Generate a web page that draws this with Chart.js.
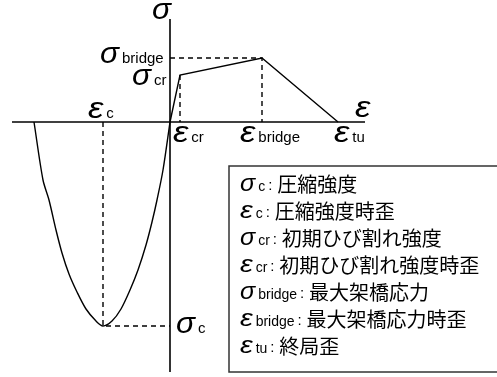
<!DOCTYPE html>
<html>
<head>
<meta charset="utf-8">
<script src="https://cdn.jsdelivr.net/npm/chart.js@4.4.1/dist/chart.umd.min.js"></script>
<style>
  html, body { margin: 0; background: #fff; }
</style>
</head>
<body>
<canvas id="myChart" width="497" height="377"></canvas>
<script>
// key points of the sketch (arbitrary units)
const epsC = -6.7, sigC = -20.4;
const epsCr = 1.0, sigCr = 4.7;
const epsBridge = 9.2, sigBridge = 6.4;
const epsTu = 16.8;

// tension side
const tensionX = [0, epsCr, epsBridge, epsTu];
const tensionY = [0, sigCr, sigBridge, 0];

// compression side (hand drawn curve)
const compX = [-13.6, -12.7, -12.1, -11.4, -10.8, -10.1, -9.3, -8.4, -7.4, epsC, -5.8, -4.9, -4.0, -3.2, -2.4, -1.8, -1.3, -0.7, 0];
const compY = [0, -5.8, -7.8, -10.8, -13.1, -15.2, -17.0, -18.7, -19.9, sigC, -19.9, -18.7, -16.8, -14.8, -12.3, -10.0, -7.8, -4.8, 0];

// axis extents
const axisX = [-15.8, 19.5];
const axisY = [-25, 10.3];

// legend entries
const legGreek = ['σ', 'ε', 'σ', 'ε', 'σ', 'ε', 'ε'];
const legSub = ['c', 'c', 'cr', 'cr', 'bridge', 'bridge', 'tu'];
const legText = ['圧縮強度', '圧縮強度時歪', '初期ひび割れ強度', '初期ひび割れ強度時歪', '最大架橋応力', '最大架橋応力時歪', '終局歪'];

const pts = (xs, ys) => xs.map((x, i) => ({ x: x, y: ys[i] }));

function line(data, opts) {
  return Object.assign({
    data: data, showLine: true, pointRadius: 0, borderColor: '#000',
    borderWidth: 1.4, fill: false, tension: 0
  }, opts || {});
}

// greek letter, stretched a bit sideways like the original symbol font
function greek(ctx, g, x, y, size) {
  const k = g === 'ε' ? 1.2 : 1.05;
  ctx.font = 'italic ' + size + 'px "Liberation Sans"';
  ctx.save();
  ctx.translate(x, y);
  ctx.scale(k, 1);
  ctx.fillText(g, 0, 0);
  ctx.restore();
  return ctx.measureText(g).width * k;
}

function sym(ctx, g, s, x, y, gSize, sSize) {
  const w = greek(ctx, g, x, y, gSize);
  ctx.font = sSize + 'px "Liberation Sans"';
  ctx.fillText(s, x + w + 3, y);
  return x + w + 3 + ctx.measureText(s).width;
}

const labels = {
  id: 'labels',
  afterDraw(chart) {
    const ctx = chart.ctx;
    const xs = chart.scales.x, ys = chart.scales.y;
    const px = v => xs.getPixelForValue(v);
    const py = v => ys.getPixelForValue(v);
    ctx.save();
    ctx.fillStyle = '#000';
    ctx.textBaseline = 'alphabetic';
    ctx.textAlign = 'left';

    // axis titles
    greek(ctx, 'σ', px(0) - 18, py(axisY[1]), 30);
    greek(ctx, 'ε', px(axisX[1]) - 10, py(0) - 5, 29);

    // curve labels
    sym(ctx, 'σ', 'bridge', px(0) - 70, py(sigBridge) + 5, 30, 15);
    sym(ctx, 'σ', 'cr', px(0) - 38, py(sigCr) + 10, 30, 15);
    sym(ctx, 'ε', 'c', px(epsC) - 15, py(0) - 4, 29, 15);
    sym(ctx, 'ε', 'cr', px(epsCr) - 7, py(0) + 20, 29, 15);
    sym(ctx, 'ε', 'bridge', px(epsBridge) - 22, py(0) + 20, 29, 15);
    sym(ctx, 'ε', 'tu', px(epsTu) - 4, py(0) + 20, 29, 15);
    sym(ctx, 'σ', 'c', px(0) + 6, py(sigC) + 7, 30, 15);

    // legend box
    const bx = 229, by = 166, bw = 290, bh = 206;
    ctx.strokeStyle = '#333';
    ctx.lineWidth = 1.5;
    ctx.strokeRect(bx, by, bw, bh);
    for (let i = 0; i < legText.length; i++) {
      const y = by + 25 + i * 27;
      let x = sym(ctx, legGreek[i], legSub[i], bx + 11, y, 24, 14);
      ctx.font = '15px "Liberation Sans"';
      ctx.fillText(':', x + 3, y - 1);
      x += 12;
      ctx.font = '20px "Noto Sans CJK JP"';
      ctx.fillText(legText[i], x, y + 1);
    }
    ctx.restore();
  }
};

new Chart(document.getElementById('myChart'), {
  type: 'scatter',
  data: {
    datasets: [
      line(pts(axisX, [0, 0]), { borderWidth: 1.6 }),
      line(pts([0, 0], axisY), { borderWidth: 1.6 }),
      line(pts(tensionX, tensionY)),
      line(pts(compX, compY), { tension: 0.3 }),
      line(pts([0, epsBridge, epsBridge], [sigBridge, sigBridge, 0]), { borderDash: [5, 4] }),
      line(pts([epsCr, epsCr], [sigCr, 0]), { borderDash: [5, 4] }),
      line(pts([epsC, epsC, 0], [0, sigC, sigC]), { borderDash: [5, 4] })
    ]
  },
  options: {
    responsive: false,
    animation: false,
    layout: { padding: 0 },
    plugins: { legend: { display: false }, tooltip: { enabled: false } },
    scales: {
      x: { type: 'linear', display: false, min: -17, max: 32.7 },
      y: { type: 'linear', display: false, min: -25.5, max: 12.2 }
    }
  },
  plugins: [labels]
});
</script>
</body>
</html>
